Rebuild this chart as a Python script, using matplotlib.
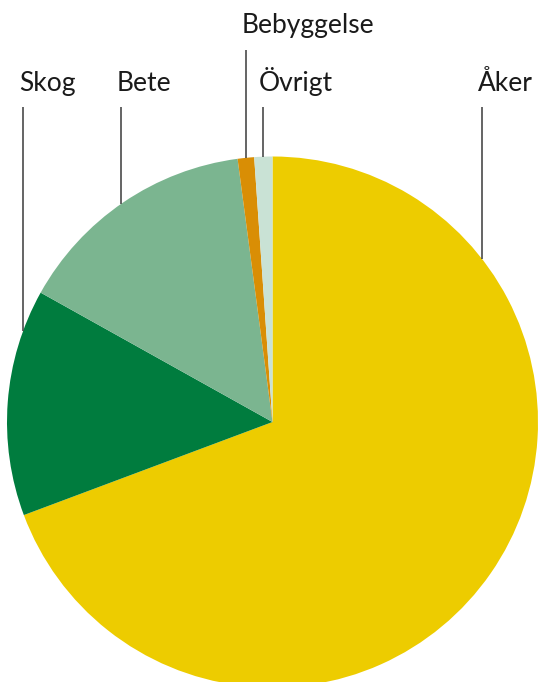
import numpy as np
import matplotlib
matplotlib.use("Agg")
import matplotlib.pyplot as plt

# land use shares (percent), clockwise from the top
labels = ["Åker", "Skog", "Bete", "Bebyggelse", "Övrigt"]
shares = [69.3, 13.8, 14.8, 1.0, 1.1]
colors = ["#EDCC00", "#007C3E", "#7BB590", "#D98E05", "#C9E2D5"]

# label placement in pixels (x of leader line, baseline y from top, top of line)
label_x = [482, 23, 121, 246, 263]
label_base = [91, 91, 91, 33, 91]
line_top = [107, 107, 107, 50, 107]

W, H = 539, 682
cx, cy, r = 272.5, H - 422, 265.5

plt.rcParams['font.family'] = ['Lato', 'DejaVu Sans']

fig = plt.figure(figsize=(W / 100, H / 100), dpi=100)
fig.patch.set_facecolor("white")
ax = fig.add_axes([0, 0, 1, 1])

ax.pie(shares, colors=colors, startangle=90, counterclock=False,
       center=(cx, cy), radius=r, frame=True,
       wedgeprops=dict(linewidth=0, antialiased=True))

for lab, x, base, top in zip(labels, label_x, label_base, line_top):
    # leader line runs straight down to the pie edge
    y_end = cy + np.sqrt(r ** 2 - (x - cx) ** 2)
    ax.plot([x, x], [H - top, y_end], color="#3a3a3a", lw=1.1,
            solid_capstyle="butt")
    ax.text(x - 4, H - base, lab, ha="left", va="baseline",
            fontsize=19, color="#1a1a1a")

ax.set_xlim(0, W)
ax.set_ylim(0, H)
ax.set_aspect("equal")
ax.axis("off")

fig.savefig("out.png", dpi=100, facecolor="white")
